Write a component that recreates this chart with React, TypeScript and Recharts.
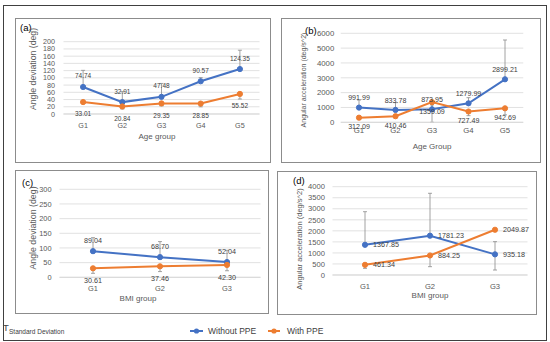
import { CartesianGrid, ErrorBar, LabelList, Line, LineChart, XAxis, YAxis } from "recharts";

// categories
const ageGroups = ["G1", "G2", "G3", "G4", "G5"];
const bmiGroups = ["G1", "G2", "G3"];

// (a) angle deviation by age group
const aWithout = [74.74, 32.91, 47.48, 90.57, 124.35];
const aWith = [33.01, 20.84, 29.35, 28.85, 55.52];
const aWithoutSd = [[0, 46], [0, 29], [0, 37], [0, 10], [0, 52]];
const aWithSd = [[4, 0], [7, 0], [7, 0], [9, 0], [14, 0]];
const aTicks = [0, 20, 40, 60, 80, 100, 120, 140, 160, 180, 200];

// (b) angular acceleration by age group
const bWithout = [991.99, 833.78, 873.95, 1279.99, 2899.21];
const bWith = [312.09, 410.46, 1359.09, 727.49, 942.69];
const bWithoutSd = [[0, 510], [0, 490], [0, 300], [0, 380], [0, 2650]];
const bWithSd = [[80, 0], [100, 0], [1359.09, 0], [280, 0], [440, 0]];
const bTicks = [0, 1000, 2000, 3000, 4000, 5000, 6000];

// (c) angle deviation by BMI group
const cWithout = [89.04, 68.7, 52.04];
const cWith = [30.61, 37.46, 42.3];
const cWithoutSd = [[0, 46], [0, 53], [0, 40]];
const cWithSd = [[17, 0], [18, 0], [20, 0]];
const cTicks = [0, 50, 100, 150, 200, 250, 300];

// (d) angular acceleration by BMI group
const dWithout = [1367.85, 1781.23, 935.18];
const dWith = [461.34, 884.25, 2049.87];
const dWithoutSd = [[0, 1500], [0, 1920], [710, 575]];
const dWithSd = [[160, 0], [507, 0], [0, 0]];
const dTicks = [0, 500, 1000, 1500, 2000, 2500, 3000, 3500, 4000];

const BLUE = "#4472C4";
const ORANGE = "#ED7D31";
const FONT = '"Liberation Sans", Arial, sans-serif';

const build = (groups: string[], w: number[], o: number[], wSd: number[][], oSd: number[][]) =>
  groups.map((g, i) => ({ group: g, without: w[i], with: o[i], withoutSd: wSd[i], withSd: oSd[i] }));

interface PanelProps {
  box: [number, number, number, number];
  plot: [number, number, number, number]; // left, right, top, bottom
  data: ReturnType<typeof build>;
  ticks: number[];
  letter: string;
  letterAt: [number, number];
  xTitle: string;
  xTitleAt: [number, number];
  yTitle: string;
  yTitleAt: [number, number];
  yTitleSize: number;
  tickSize: number;
  labelSize: number;
  xTickOffset: number;
  yTickGap: number;
  labelPos: { without: "top" | "right"; with: "bottom" | "right" };
  offsets: { without: number; with: number };
}

function Panel(p: PanelProps) {
  const [bx, by, bw, bh] = p.box;
  const [pl, pr, pt, pb] = p.plot;
  const yw = 40;
  const xh = 20;
  const n = p.data.length;
  const pad = (pr - pl) / (2 * n);
  const fmt = (v: any) => Number(v).toFixed(2);
  return (
    <>
      <div
        style={{ position: "absolute", left: bx, top: by, width: bw, height: bh, border: "1px solid #8c8c8c", boxSizing: "border-box" }}
      />
      <div style={{ position: "absolute", left: bx, top: by }}>
        <LineChart
          width={bw}
          height={bh}
          data={p.data}
          margin={{ left: pl - bx - yw, right: bx + bw - pr, top: pt - by, bottom: by + bh - pb - xh }}
        >
          <CartesianGrid vertical={false} stroke="#d9d9d9" strokeWidth={0.8} />
          <XAxis
            dataKey="group"
            height={xh}
            padding={{ left: pad, right: pad }}
            tickLine={false}
            tickSize={0}
            tickMargin={p.xTickOffset}
            stroke="#d9d9d9"
            tick={{ fontSize: p.tickSize, fill: "#595959", fontFamily: FONT }}
          />
          <YAxis
            width={yw}
            domain={[0, p.ticks[p.ticks.length - 1]]}
            ticks={p.ticks}
            interval={0}
            axisLine={false}
            tickLine={false}
            tickSize={0}
            tickMargin={p.yTickGap}
            tick={{ fontSize: p.tickSize, fill: "#595959", fontFamily: FONT }}
          />
          <Line
            dataKey="without"
            stroke={BLUE}
            strokeWidth={2}
            dot={{ r: 2.6, fill: BLUE, stroke: BLUE, strokeWidth: 1 }}
            activeDot={false}
            isAnimationActive={false}
          >
            <ErrorBar dataKey="withoutSd" width={2} stroke="#8c8c8c" strokeWidth={0.8} direction="y" />
            <LabelList
              dataKey="without"
              position={p.labelPos.without}
              offset={p.offsets.without}
              formatter={fmt}
              style={{ fontSize: p.labelSize, fill: "#404040", fontFamily: FONT }}
            />
          </Line>
          <Line
            dataKey="with"
            stroke={ORANGE}
            strokeWidth={2}
            dot={{ r: 2.6, fill: ORANGE, stroke: ORANGE, strokeWidth: 1 }}
            activeDot={false}
            isAnimationActive={false}
          >
            <ErrorBar dataKey="withSd" width={2} stroke="#8c8c8c" strokeWidth={0.8} direction="y" />
            <LabelList
              dataKey="with"
              position={p.labelPos.with}
              offset={p.offsets.with}
              formatter={fmt}
              style={{ fontSize: p.labelSize, fill: "#404040", fontFamily: FONT }}
            />
          </Line>
        </LineChart>
      </div>
      <div
        style={{ position: "absolute", left: p.letterAt[0], top: p.letterAt[1] - 6, fontSize: 9.5, lineHeight: "12px", color: "#000", fontFamily: FONT }}
      >
        {p.letter}
      </div>
      <div
        style={{
          position: "absolute",
          left: p.xTitleAt[0] - 50,
          width: 100,
          top: p.xTitleAt[1] - 6,
          textAlign: "center",
          fontSize: 8,
          lineHeight: "12px",
          color: "#595959",
          fontFamily: FONT,
        }}
      >
        {p.xTitle}
      </div>
      <div
        style={{
          position: "absolute",
          left: p.yTitleAt[0] - 70,
          width: 140,
          top: p.yTitleAt[1] - 6,
          textAlign: "center",
          fontSize: p.yTitleSize,
          lineHeight: "12px",
          color: "#595959",
          fontFamily: FONT,
          transform: "rotate(-90deg)",
          whiteSpace: "nowrap",
        }}
      >
        {p.yTitle}
      </div>
    </>
  );
}

export default function App() {
  return (
    <div style={{ position: "absolute", left: 0, top: 0, width: 550, height: 342, background: "#fff", fontFamily: FONT }}>
      <div
        style={{ position: "absolute", left: 3, top: 5, width: 544, height: 336, border: "1.3px solid #404040", boxSizing: "border-box" }}
      />
      <Panel
        box={[15, 18, 256, 145]}
        plot={[63.5, 259.5, 41.7, 114]}
        data={build(ageGroups, aWithout, aWith, aWithoutSd, aWithSd)}
        ticks={aTicks}
        letter="(a)"
        letterAt={[20, 28]}
        xTitle="Age group"
        xTitleAt={[157, 137]}
        yTitle="Angle deviation (deg)"
        yTitleAt={[33, 69]}
        yTitleSize={8.7}
        tickSize={7.2}
        labelSize={6.5}
        xTickOffset={9}
        yTickGap={8.5}
        labelPos={{ without: "top", with: "bottom" }}
        offsets={{ without: 8.5, with: 9.5 }}
      />
      <Panel
        box={[281, 18, 260, 145]}
        plot={[340.75, 523.25, 33.3, 122.3]}
        data={build(ageGroups, bWithout, bWith, bWithoutSd, bWithSd)}
        ticks={bTicks}
        letter="(b)"
        letterAt={[305, 31]}
        xTitle="Age Group"
        xTitleAt={[432, 146.7]}
        yTitle="Angular acceleration (deg/s^2)"
        yTitleAt={[304, 79.5]}
        yTitleSize={7}
        tickSize={7.8}
        labelSize={7.1}
        xTickOffset={5}
        yTickGap={6.5}
        labelPos={{ without: "top", with: "bottom" }}
        offsets={{ without: 7.4, with: 6.5 }}
      />
      <Panel
        box={[15, 170, 254, 144]}
        plot={[59.5, 260.5, 189.3, 277.3]}
        data={build(bmiGroups, cWithout, cWith, cWithoutSd, cWithSd)}
        ticks={cTicks}
        letter="(c)"
        letterAt={[22, 183]}
        xTitle="BMI group"
        xTitleAt={[138, 299]}
        yTitle="Angle deviation (deg)"
        yTitleAt={[32.7, 228]}
        yTitleSize={8.8}
        tickSize={7.4}
        labelSize={7.2}
        xTickOffset={8}
        yTickGap={8}
        labelPos={{ without: "top", with: "bottom" }}
        offsets={{ without: 8.4, with: 9.5 }}
      />
      <Panel
        box={[277, 171, 260, 144]}
        plot={[332.5, 527.5, 186.7, 275]}
        data={build(bmiGroups, dWithout, dWith, dWithoutSd, dWithSd)}
        ticks={dTicks}
        letter="(d)"
        letterAt={[293, 181]}
        xTitle="BMI group"
        xTitleAt={[430, 296]}
        yTitle="Angular acceleration (deg/s^2)"
        yTitleAt={[300, 239]}
        yTitleSize={7.5}
        tickSize={7.6}
        labelSize={7.2}
        xTickOffset={9}
        yTickGap={7.5}
        labelPos={{ without: "right", with: "right" }}
        offsets={{ without: 8, with: 8 }}
      />
      {/* legend row */}
      <div style={{ position: "absolute", left: 3, top: 322, fontSize: 9.5, lineHeight: "12px", color: "#404040" }}>T</div>
      <div style={{ position: "absolute", left: 9, top: 327, fontSize: 6.5, lineHeight: "10px", color: "#404040" }}>
        Standard Deviation
      </div>
      <svg style={{ position: "absolute", left: 186, top: 325 }} width={100} height={12}>
        <line x1={4} y1={6} x2={17} y2={6} stroke={BLUE} strokeWidth={2} />
        <circle cx={10.5} cy={6} r={2.6} fill={BLUE} />
        <line x1={82} y1={6} x2={94} y2={6} stroke={ORANGE} strokeWidth={2} />
        <circle cx={88} cy={6} r={2.6} fill={ORANGE} />
      </svg>
      <div style={{ position: "absolute", left: 208, top: 325, fontSize: 8.5, lineHeight: "12px", color: "#404040" }}>
        Without PPE
      </div>
      <div style={{ position: "absolute", left: 287, top: 325, fontSize: 8.5, lineHeight: "12px", color: "#404040" }}>
        With PPE
      </div>
    </div>
  );
}
